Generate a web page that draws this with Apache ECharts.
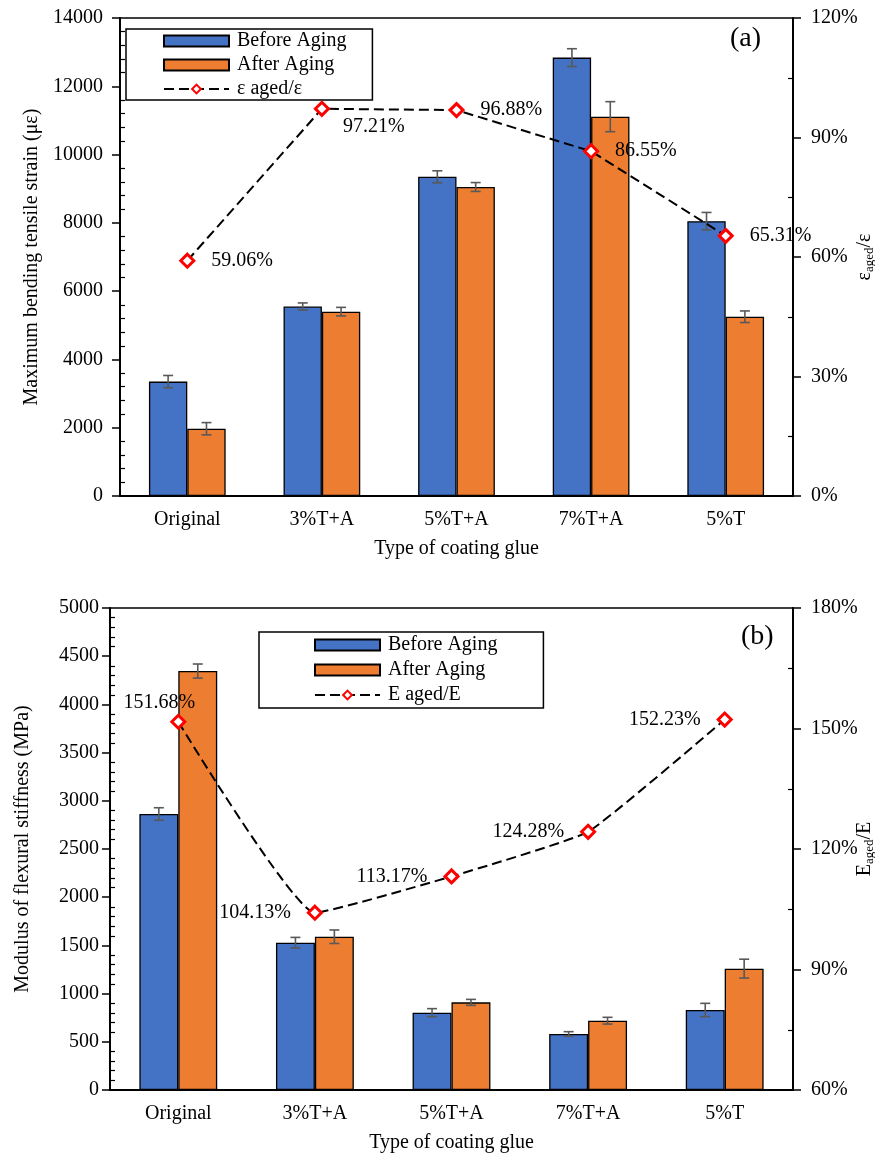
<!DOCTYPE html>
<html><head><meta charset="utf-8">
<script src="https://cdn.jsdelivr.net/npm/echarts@6/dist/echarts.min.js"></script>
<style>html,body{margin:0;padding:0;background:#fff}#c{width:875px;height:1158px}</style>
</head><body><div id="c"></div>
<script>
// ---------- data ----------
const categories = ['Original', '3%T+A', '5%T+A', '7%T+A', '5%T'];
const strainBefore    = [3350, 5550, 9350, 12840, 8050];
const strainBeforeErr = [180, 105, 175, 260, 255];
const strainAfter     = [1970, 5400, 9050, 11110, 5250];
const strainAfterErr  = [180, 125, 130, 440, 170];
const strainRatio     = [59.06, 97.21, 96.88, 86.55, 65.31];
const stiffBefore     = [2863, 1528, 802, 581, 830];
const stiffBeforeErr  = [65, 55, 42, 24, 69];
const stiffAfter      = [4346, 1590, 909, 719, 1259];
const stiffAfterErr   = [73, 70, 31, 35, 98];
const stiffRatio      = [151.68, 104.13, 113.17, 124.28, 152.23];
const seriesNames = ['Before Aging', 'After Aging'];
const ratioNameA = 'ε aged/ε';
const ratioNameB = 'E aged/E';

// ---------- styles ----------
const F = '"Liberation Serif","Times New Roman",serif';
const FS = 20;
const BLUE = '#4472C4', ORANGE = '#ED7D31';
const GAP = 0.43;
const txt = {color: '#000', fontFamily: F, fontSize: FS};

const labelA = [
  {position: 'right', distance: 16},
  {position: 'right', distance: 13, offset: [0, 18]},
  {position: 'right', distance: 16},
  {position: 'right', distance: 16},
  {position: 'right', distance: 16}
];
const labelB = [
  {position: 'top', distance: 1, offset: [-19, 0]},
  {position: 'left', distance: 16},
  {position: 'left', distance: 16},
  {position: 'left', distance: 16},
  {position: 'left', distance: 16}
];

function errRender(sign) {
  return function (params, api) {
    const i = api.value(0), v = api.value(1), e = api.value(2);
    const band = api.size([1, 0])[0];
    const off = sign * band * (1 - GAP) / 4;
    const t = api.coord([i, v + e]);
    const b = api.coord([i, v - e]);
    const x = t[0] + off;
    const c = 5;
    const style = {stroke: '#595959', lineWidth: 1.6};
    return {type: 'group', children: [
      {type: 'line', shape: {x1: x, y1: t[1], x2: x, y2: b[1]}, style: style},
      {type: 'line', shape: {x1: x - c, y1: t[1], x2: x + c, y2: t[1]}, style: style},
      {type: 'line', shape: {x1: x - c, y1: b[1], x2: x + c, y2: b[1]}, style: style}
    ]};
  };
}

// minor tick positions (between the labelled ticks), for inward ticks
function minorValues(min, max, major, splits) {
  const out = [];
  const step = major / splits;
  for (let k = 0; min + k * step <= max + 1e-9; k++) {
    if (k % splits !== 0) out.push(+(min + k * step).toFixed(6));
  }
  return out;
}

function xAxis(gi) {
  return {
    gridIndex: gi, type: 'category', data: categories,
    axisLine: {lineStyle: {color: '#000', width: 2}},
    axisTick: {show: false},
    axisLabel: Object.assign({margin: 14}, txt),
    name: 'Type of coating glue', nameLocation: 'middle', nameGap: 43, nameMoveOverlap: false,
    nameTextStyle: txt
  };
}
function leftAxis(gi, max, interval, name, margin, gap) {
  return {
    gridIndex: gi, type: 'value', min: 0, max: max, interval: interval, position: 'left',
    axisLine: {show: true, lineStyle: {color: '#000', width: 2}},
    axisTick: {show: true, length: 8, lineStyle: {color: '#000', width: 1.5}},
    splitLine: {show: false},
    axisLabel: Object.assign({margin: margin, formatter: (v) => String(v)}, txt),
    name: name, nameLocation: 'middle', nameGap: gap, nameRotate: 90, nameMoveOverlap: false,
    nameTextStyle: txt
  };
}
function rightAxis(gi, min, max, nameRich) {
  return {
    gridIndex: gi, type: 'value', min: min, max: max, interval: 30, position: 'right',
    axisLine: {show: true, lineStyle: {color: '#000', width: 2}},
    axisTick: {show: true, length: 8, lineStyle: {color: '#000', width: 1.5}},
    splitLine: {show: false},
    axisLabel: Object.assign({margin: 18, formatter: '{value}%'}, txt),
    name: nameRich, nameLocation: 'middle', nameGap: 60, nameRotate: 90, nameMoveOverlap: false,
    nameTextStyle: {color: '#000', fontFamily: F, rich: {
      m: {fontSize: FS, fontFamily: F, color: '#000'},
      s: {fontSize: 13, fontFamily: F, color: '#000', padding: [10, 0, 0, 0]}
    }}
  };
}
function minorAxis(gi, pos, min, max, interval, splits) {
  return {
    gridIndex: gi, type: 'value', min: min, max: max, interval: interval, position: pos,
    axisLine: {show: false},
    axisTick: {show: true, inside: true, length: 5, customValues: minorValues(min, max, interval, splits),
               lineStyle: {color: '#000', width: 1.2}},
    axisLabel: {show: false},
    splitLine: {show: false}
  };
}
function bars(name, data, color, xi, yi) {
  return {
    name: name, type: 'bar', xAxisIndex: xi, yAxisIndex: yi, data: data,
    barGap: '0%', barCategoryGap: (GAP * 100) + '%',
    itemStyle: {color: color, borderColor: '#000', borderWidth: 1.3},
    z: 2
  };
}
function errs(vals, es, sign, xi, yi) {
  return {
    type: 'custom', xAxisIndex: xi, yAxisIndex: yi,
    data: vals.map((v, i) => [i, v, es[i]]),
    encode: {x: 0, y: 1},
    renderItem: errRender(sign), z: 3, silent: true
  };
}
function ratioLine(name, vals, labels, xi, yi, smooth) {
  return {
    name: name, type: 'line', xAxisIndex: xi, yAxisIndex: yi, smooth: smooth,
    data: vals.map((v, i) => ({value: v, label: labels[i]})),
    symbol: 'diamond', symbolSize: 13,
    itemStyle: {color: '#fff', borderColor: '#FF0000', borderWidth: 3},
    lineStyle: {color: '#000', width: 2, type: [10, 5]},
    label: Object.assign({show: true, formatter: (p) => p.value.toFixed(2) + '%'}, txt),
    z: 5
  };
}
function legend(names, lineName, left, top, padding, gap) {
  return {
    orient: 'vertical', left: left, top: top, padding: padding, itemGap: gap,
    itemWidth: 65, itemHeight: 11,
    borderColor: '#000', borderWidth: 1.5, borderRadius: 0,
    textStyle: Object.assign({lineHeight: 20, padding: [0, 0, 0, 3]}, txt),
    data: [{name: names[0], icon: 'rect'}, {name: names[1], icon: 'rect'}, lineName]
  };
}

const chart = echarts.init(document.getElementById('c'), null, {renderer: 'canvas'});
chart.setOption({
  backgroundColor: '#fff',
  animation: false,
  grid: [
    {left: 120, right: 82, top: 18, height: 478, show: true, borderColor: '#000', borderWidth: 1.5,
     containLabel: false, outerBoundsMode: 'none'},
    {left: 110, right: 82, top: 608, height: 482, show: true, borderColor: '#000', borderWidth: 1.5,
     containLabel: false, outerBoundsMode: 'none'}
  ],
  legend: [
    legend(seriesNames, ratioNameA, 126, 29, [2, 26, 1, 37], 4),
    legend(seriesNames, ratioNameB, 259, 632, [3, 46, 3, 55], 5)
  ],
  xAxis: [xAxis(0), xAxis(1)],
  yAxis: [
    leftAxis(0, 14000, 2000, 'Maximum bending tensile strain (με)', 17, 78),
    rightAxis(0, 0, 120, '{m|ε}{s|aged}{m|/ε}'),
    leftAxis(1, 5000, 500, 'Modulus of flexural stiffness (MPa)', 11, 77),
    rightAxis(1, 60, 180, '{m|E}{s|aged}{m|/E}'),
    minorAxis(0, 'left', 0, 14000, 2000, 5),
    minorAxis(0, 'right', 0, 120, 30, 2),
    minorAxis(1, 'left', 0, 5000, 500, 5),
    minorAxis(1, 'right', 60, 180, 30, 2)
  ],
  graphic: [
    {type: 'text', left: 730, top: 25, style: {text: '(a)', font: '28px ' + F, fill: '#000'}},
    {type: 'text', left: 741, top: 623, style: {text: '(b)', font: '28px ' + F, fill: '#000'}}
  ],
  series: [
    bars(seriesNames[0], strainBefore, BLUE, 0, 0),
    bars(seriesNames[1], strainAfter, ORANGE, 0, 0),
    errs(strainBefore, strainBeforeErr, -1, 0, 0),
    errs(strainAfter, strainAfterErr, 1, 0, 0),
    ratioLine(ratioNameA, strainRatio, labelA, 0, 1, false),
    bars(seriesNames[0], stiffBefore, BLUE, 1, 2),
    bars(seriesNames[1], stiffAfter, ORANGE, 1, 2),
    errs(stiffBefore, stiffBeforeErr, -1, 1, 2),
    errs(stiffAfter, stiffAfterErr, 1, 1, 2),
    ratioLine(ratioNameB, stiffRatio, labelB, 1, 3, 0.12)
  ]
});
</script></body></html>
